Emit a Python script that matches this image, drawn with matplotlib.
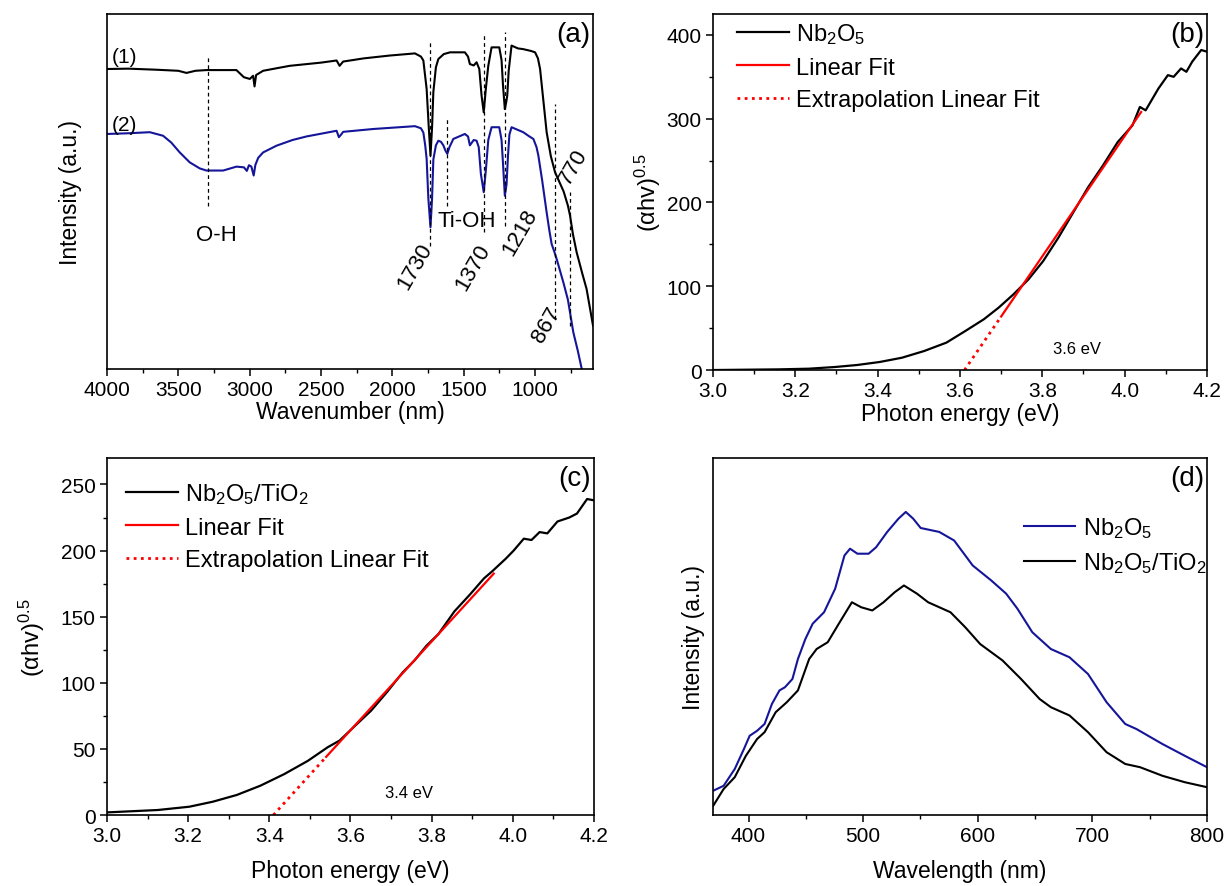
import matplotlib
matplotlib.use("Agg")
import matplotlib.pyplot as plt
from matplotlib.ticker import MultipleLocator

plt.rcParams['font.family'] = ['Liberation Sans', 'DejaVu Sans']
plt.rcParams['mathtext.fontset'] = 'custom'
plt.rcParams['mathtext.rm'] = 'Liberation Sans'
plt.rcParams['mathtext.it'] = 'Liberation Sans:italic'

# ---------------- data ----------------
# (a) FTIR
a1_wn = [4000, 3850, 3654, 3500, 3443, 3380, 3303, 3093, 3041, 2999, 2976, 2966, 2955, 2906, 2800, 2719,
         2500, 2391, 2370, 2345, 2200, 2017, 1842, 1800, 1783, 1760, 1745, 1733, 1722, 1713, 1695, 1678,
         1640, 1596, 1492, 1470, 1457, 1430, 1410, 1391, 1375, 1360, 1345, 1328, 1305, 1251, 1235, 1225,
         1212, 1203, 1195, 1185, 1165, 1120, 1083, 1030, 1000, 980, 965, 919, 890, 860, 800, 770, 755,
         735, 709, 670, 639, 615, 594]
a1_int = [84.5, 84.6, 84.3, 84.0, 83.4, 84.0, 84.2, 84.2, 82.2, 81.7, 82.6, 79.6, 82.8, 84.0, 84.8, 85.4,
          86.3, 86.9, 85.4, 86.6, 87.5, 88.3, 88.9, 88.0, 86.9, 78.9, 68.0, 60.1, 68.0, 78.0, 85.0, 87.3,
          88.7, 89.2, 89.2, 88.0, 85.9, 85.5, 86.4, 84.5, 77.0, 72.3, 79.0, 85.4, 90.6, 90.6, 87.0, 80.0,
          73.2, 75.0, 77.0, 84.0, 91.1, 90.3, 90.1, 89.6, 89.2, 87.5, 84.5, 66.7, 60.0, 55.4, 50.0, 46.0, 43.2,
          38.0, 32.9, 27.0, 22.5, 17.0, 12.2]
a2_wn = [4000, 3850, 3700, 3607, 3550, 3490, 3420, 3350, 3303, 3186, 3093, 3040, 3020, 3005, 2988, 2972,
         2960, 2940, 2906, 2812, 2700, 2602, 2391, 2375, 2360, 2345, 2135, 1842, 1800, 1783, 1770, 1760,
         1748, 1733, 1722, 1713, 1695, 1678, 1660, 1643, 1628, 1615, 1600, 1573, 1492, 1470, 1457, 1430,
         1410, 1395, 1380, 1360, 1345, 1328, 1305, 1251, 1235, 1225, 1212, 1200, 1190, 1180, 1165, 1083,
         1040, 1012, 990, 977, 950, 919, 900, 884, 865, 849, 802, 770, 732, 700, 673, 660]
a2_int = [66.2, 66.4, 66.7, 65.7, 63.8, 61.0, 58.2, 56.5, 55.9, 55.9, 57.0, 56.8, 55.8, 57.4, 57.0, 54.5,
          57.5, 59.5, 61.0, 62.9, 64.5, 65.5, 67.1, 65.3, 66.0, 66.8, 67.6, 68.4, 67.8, 66.6, 63.0, 59.2,
          48.0, 39.9, 48.0, 59.0, 63.0, 64.3, 64.0, 63.0, 61.5, 60.6, 62.5, 64.8, 66.2, 65.5, 63.0, 64.5,
          64.3, 62.5, 55.0, 49.8, 56.0, 64.5, 68.1, 68.1, 64.5, 58.0, 48.8, 52.0, 60.0, 66.0, 68.1, 66.7,
          65.5, 64.8, 62.5, 60.1, 53.0, 44.1, 39.0, 35.2, 33.0, 31.0, 24.4, 19.5, 10.3, 5.0, 0.0, -3.0]
# guide lines (wavenumber, lower, upper) and labels
a_guide_wn = [3290, 1733, 1615, 1360, 1212, 860, 755]
a_guide_lo = [46.0, 34.7, 46.0, 38.5, 40.4, 14.1, 12.2]
a_guide_hi = [88.3, 92.0, 70.4, 94.4, 94.8, 74.6, 49.8]
a_labels = ["O-H", "Ti-OH", "1730", "1370", "1218", "867", "770"]
a_label_wn = [3236, 1477, 1842, 1435, 1106, 917, 734]
a_label_y = [38.0, 41.7, 29.0, 28.7, 38.6, 12.7, 57.2]
a_label_rot = [0, 0, 60, 60, 60, 60, 60]

# (b) Tauc Nb2O5
b_x = [3.0, 3.16, 3.233, 3.296, 3.35, 3.405, 3.459, 3.513, 3.567, 3.613, 3.658, 3.694, 3.73, 3.766, 3.802,
       3.839, 3.875, 3.911, 3.947, 3.983, 4.019, 4.037, 4.051, 4.082, 4.105, 4.119, 4.137, 4.15, 4.164,
       4.186, 4.2]
b_y = [0.0, 0.8, 1.6, 3.6, 6, 9.6, 14.7, 22.7, 32.7, 46.6, 60.6, 74.5, 90.4, 108, 130, 158, 188, 218,
       244, 272, 292, 314, 310, 336, 352, 350, 360, 356, 368, 382, 380]
b_fit_x = [3.70, 4.04]
b_fit_y = [63.9, 308.0]
b_ext_x = [3.611, 3.70]
b_ext_y = [0.0, 63.9]

# (c) Tauc Nb2O5/TiO2
c_x = [3.0, 3.125, 3.203, 3.261, 3.32, 3.378, 3.437, 3.495, 3.544, 3.573, 3.612, 3.651, 3.69, 3.729,
       3.758, 3.787, 3.817, 3.856, 3.895, 3.929, 3.948, 3.983, 4.002, 4.027, 4.046, 4.066, 4.085, 4.11,
       4.139, 4.158, 4.183, 4.2]
c_y = [2, 3.8, 6.3, 10.1, 15.2, 22.2, 31, 41, 51.3, 56.3, 67.7, 79, 93, 108, 117, 128, 137, 154, 167,
       179, 184, 194, 200, 209, 208, 214, 213, 222, 225, 228, 239, 238]
c_fit_x = [3.54, 3.953]
c_fit_y = [44.0, 182.6]
c_ext_x = [3.41, 3.54]
c_ext_y = [0.0, 44.0]

# (d) PL
d_wl1 = [369.2, 378.3, 388, 396, 401, 407.5, 414, 420.4, 427, 431.8, 438.3, 443.1, 449.6, 456, 465.9,
         475.6, 483.7, 488.6, 495, 504.8, 511.3, 521, 530.8, 537.2, 543.7, 550.2, 566.4, 579.4, 595.6,
         611.8, 624.8, 634.6, 647.6, 663.8, 680, 696.2, 712.4, 728.7, 738.4, 761.1, 780.6, 800]
d_int1 = [6.8, 8.2, 12.9, 18.5, 22.2, 23.6, 25.5, 31.1, 34.9, 35.8, 38.1, 43.7, 49.3, 53.6, 56.8, 63.4,
          72.7, 74.6, 73.2, 73.2, 75, 79.3, 83, 84.9, 83, 80.4, 79.3, 76.9, 69.9, 65.7, 62, 57.8, 51.2,
          46.5, 44.2, 39.5, 31.6, 25.5, 24.1, 19.9, 16.6, 13.4]
d_wl2 = [369.2, 378.3, 388, 397.7, 407.5, 414, 423.7, 433.4, 443.1, 452.9, 459.4, 469.1, 478.8, 490.2,
         498.3, 508, 517.8, 527.5, 535.6, 547, 556.7, 576.2, 589.1, 602.1, 621.6, 637.8, 654, 663.8, 680,
         696.2, 712.4, 728.7, 741.6, 761.1, 780.6, 800]
d_int2 = [2.6, 7.3, 10.6, 16.6, 21.3, 23.2, 28.8, 31.6, 34.9, 43.7, 46.5, 48.4, 53.6, 59.6, 58.2, 57.3,
          59.6, 62.4, 64.3, 62, 59.6, 56.8, 52.6, 47.9, 43.3, 38.1, 32.5, 30.2, 27.9, 23.2, 17.6, 14.3,
          13.4, 11, 9.2, 7.8]

NAVY = '#15159a'
RED = '#ff0000'
TICK_FS = 15
LAB_FS = 16.5
LEG_FS = 17
TAG_FS = 20

fig = plt.figure(figsize=(12.24, 8.87), dpi=100)
axa = fig.add_axes([0.0874, 0.5829, 0.3971, 0.4002])
axb = fig.add_axes([0.5825, 0.5817, 0.4036, 0.4014])
axc = fig.add_axes([0.0874, 0.0800, 0.3979, 0.4025])
axd = fig.add_axes([0.5825, 0.0800, 0.4036, 0.4025])

for ax in (axa, axb, axc, axd):
    for s in ax.spines.values():
        s.set_linewidth(1.2)
    ax.tick_params(which='major', direction='out', length=5, width=1.1, labelsize=TICK_FS, pad=3)
    ax.tick_params(which='minor', direction='out', length=3, width=1.0)

NB = r'Nb$_\mathregular{2}$O$_\mathregular{5}$'
NBTI = r'Nb$_\mathregular{2}$O$_\mathregular{5}$/TiO$_\mathregular{2}$'
YL = r'($\mathregular{\alpha}$hv)$^\mathregular{0.5}$'

leg_kw = dict(frameon=False, fontsize=LEG_FS, handlelength=2.2, handletextpad=0.3,
              labelspacing=0.45, borderaxespad=0.2)

# ---- (a)
axa.plot(a1_wn, a1_int, color='black', lw=1.5)
axa.plot(a2_wn, a2_int, color=NAVY, lw=1.5)
for w, lo, hi in zip(a_guide_wn, a_guide_lo, a_guide_hi):
    axa.plot([w, w], [lo, hi], color='black', lw=0.9, ls=(0, (3, 2.5)))
for t, w, y, r in zip(a_labels, a_label_wn, a_label_y, a_label_rot):
    axa.text(w, y, t, fontsize=16, rotation=r, ha='center', va='center', rotation_mode='anchor')
axa.text(3965, 87.9, '(1)', fontsize=15, ha='left', va='center')
axa.text(3965, 69.0, '(2)', fontsize=15, ha='left', va='center')
axa.text(0.96, 0.945, '(a)', transform=axa.transAxes, fontsize=TAG_FS, ha='center', va='center')
axa.set_xlim(4000, 594)
axa.set_ylim(0, 100)
axa.xaxis.set_major_locator(MultipleLocator(500))
axa.xaxis.set_minor_locator(MultipleLocator(250))
axa.set_yticks([])
axa.set_xlabel('Wavenumber (nm)', fontsize=LAB_FS, labelpad=1)
axa.set_ylabel('Intensity (a.u.)', fontsize=LAB_FS, labelpad=18)

# ---- (b)
axb.plot(b_x, b_y, color='black', lw=1.6, label=NB)
axb.plot(b_fit_x, b_fit_y, color=RED, lw=1.6, label='Linear Fit')
axb.plot(b_ext_x, b_ext_y, color=RED, lw=2, ls=(0, (1, 1.6)), label='Extrapolation Linear Fit')
axb.text(3.885, 26, '3.6 eV', fontsize=12, ha='center', va='center')
axb.text(0.96, 0.945, '(b)', transform=axb.transAxes, fontsize=TAG_FS, ha='center', va='center')
axb.set_xlim(3.0, 4.2)
axb.set_ylim(0, 425)
axb.xaxis.set_major_locator(MultipleLocator(0.2))
axb.xaxis.set_minor_locator(MultipleLocator(0.1))
axb.yaxis.set_major_locator(MultipleLocator(100))
axb.yaxis.set_minor_locator(MultipleLocator(50))
axb.set_xlabel('Photon energy (eV)', fontsize=LAB_FS, labelpad=1)
axb.set_ylabel(YL, fontsize=17, labelpad=3)
axb.legend(loc='upper left', bbox_to_anchor=(0.02, 1.02), **leg_kw)

# ---- (c)
axc.plot(c_x, c_y, color='black', lw=1.6, label=NBTI)
axc.plot(c_fit_x, c_fit_y, color=RED, lw=1.6, label='Linear Fit')
axc.plot(c_ext_x, c_ext_y, color=RED, lw=2, ls=(0, (1, 1.6)), label='Extrapolation Linear Fit')
axc.text(3.744, 17.4, '3.4 eV', fontsize=12, ha='center', va='center')
axc.text(0.96, 0.945, '(c)', transform=axc.transAxes, fontsize=TAG_FS, ha='center', va='center')
axc.set_xlim(3.0, 4.2)
axc.set_ylim(0, 270)
axc.xaxis.set_major_locator(MultipleLocator(0.2))
axc.xaxis.set_minor_locator(MultipleLocator(0.1))
axc.yaxis.set_major_locator(MultipleLocator(50))
axc.yaxis.set_minor_locator(MultipleLocator(25))
axc.set_xlabel('Photon energy (eV)', fontsize=LAB_FS, labelpad=10)
axc.set_ylabel(YL, fontsize=17, labelpad=10)
axc.legend(loc='upper left', bbox_to_anchor=(0.01, 0.975), **leg_kw)

# ---- (d)
axd.plot(d_wl1, d_int1, color=NAVY, lw=1.5, label=NB)
axd.plot(d_wl2, d_int2, color='black', lw=1.5, label=NBTI)
axd.text(0.96, 0.945, '(d)', transform=axd.transAxes, fontsize=TAG_FS, ha='center', va='center')
axd.set_xlim(369, 800)
axd.set_ylim(0, 100)
axd.xaxis.set_major_locator(MultipleLocator(100))
axd.xaxis.set_minor_locator(MultipleLocator(50))
axd.set_yticks([])
axd.set_xlabel('Wavelength (nm)', fontsize=LAB_FS, labelpad=10)
axd.set_ylabel('Intensity (a.u.)', fontsize=LAB_FS, labelpad=6)
axd.legend(loc='upper left', bbox_to_anchor=(0.60, 0.88), **leg_kw)

fig.savefig('out.png', dpi=100)
